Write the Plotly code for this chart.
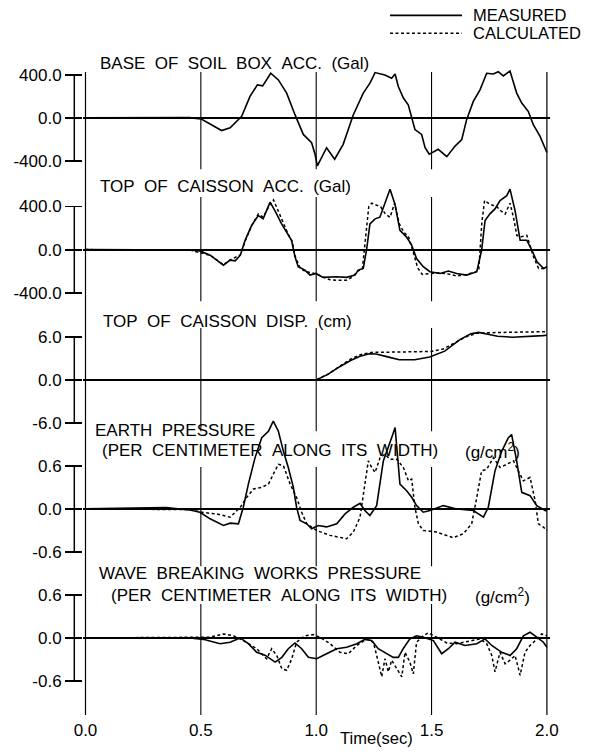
import plotly.graph_objects as go

# ------------------------------------------------------------------ data
time_ticks = [0.0, 0.5, 1.0, 1.5, 2.0]
time_tick_labels = ["0.0", "0.5", "1.0", "1.5", "2.0"]

panel_half_range = [400.0, 400.0, 6.0, 0.6, 0.6]
panel_tick_labels = [
    ["400.0", "0.0", "-400.0"],
    ["400.0", "0.0", "-400.0"],
    ["6.0", "0.0", "-6.0"],
    ["0.6", "0.0", "-0.6"],
    ["0.6", "0.0", "-0.6"],
]

legend_names = ["MEASURED", "CALCULATED"]

# Panel 1: base of soil box acceleration (Gal)
base_meas_t = [0.0, 0.30, 0.45, 0.50, 0.54, 0.59, 0.627, 0.677, 0.713, 0.745, 0.768, 0.803,
               0.836, 0.872, 0.908, 0.944, 0.98, 0.995, 1.005, 1.045, 1.08, 1.117, 1.139,
               1.161, 1.204, 1.233, 1.255, 1.298, 1.327, 1.342, 1.356, 1.378, 1.399, 1.414,
               1.428, 1.457, 1.472, 1.49, 1.529, 1.566, 1.602, 1.631, 1.652, 1.681, 1.71,
               1.739, 1.768, 1.789, 1.811, 1.84, 1.869, 1.891, 1.919, 1.941, 1.97, 2.0]
base_meas_v = [0, 5, 3, -9, -60, -117, -92, 15, 199, 306, 297, 414,
               352, 230, 30, -153, -230, -337, -445, -276, -383, -245, -107,
               30, 230, 322, 420, 398, 368, 407, 291, 184, 122, 0,
               -108, -153, -276, -337, -291, -359, -261, -200, -16, 153, 260,
               414, 407, 428, 389, 435, 230, 138, 61, -62, -169, -320]

# Panel 2: top of caisson acceleration (Gal)
cacc_meas_t = [0.0, 0.45, 0.496, 0.54, 0.598, 0.627, 0.649, 0.671, 0.692, 0.72, 0.749, 0.77,
               0.80, 0.821, 0.85, 0.879, 0.893, 0.908, 0.922, 0.951, 0.973, 0.999, 1.03,
               1.088, 1.132, 1.168, 1.182, 1.204, 1.219, 1.233, 1.255, 1.276, 1.298, 1.32,
               1.341, 1.363, 1.392, 1.414, 1.435, 1.464, 1.493, 1.537, 1.573, 1.609, 1.652,
               1.696, 1.717, 1.732, 1.753, 1.775, 1.797, 1.826, 1.84, 1.862, 1.884, 1.913,
               1.935, 1.957, 1.986, 2.0]
cacc_meas_v = [0, -3, -12, -52, -144, -98, -104, -52, 86, 224, 316, 285,
               440, 362, 239, 132, 86, -67, -159, -190, -236, -221, -257,
               -251, -257, -236, -190, -175, 9, 239, 285, 300, 423, 560,
               423, 178, 116, 40, -83, -159, -205, -221, -199, -221, -236,
               -205, -6, 270, 331, 377, 454, 500, 560, 362, 86, 86,
               -6, -113, -175, -159]
cacc_calc_t = [0.0, 0.45, 0.54, 0.598, 0.627, 0.671, 0.692, 0.72, 0.749, 0.77, 0.80, 0.815,
               0.835, 0.86, 0.879, 0.895, 0.91, 0.93, 0.951, 0.98, 1.0, 1.03, 1.06, 1.10,
               1.13, 1.16, 1.18, 1.20, 1.215, 1.228, 1.241, 1.26, 1.28, 1.30, 1.32, 1.34,
               1.36, 1.38, 1.40, 1.42, 1.44, 1.46, 1.49, 1.53, 1.57, 1.61, 1.65, 1.69,
               1.705, 1.718, 1.73, 1.753, 1.782, 1.80, 1.819, 1.84, 1.855, 1.87, 1.89,
               1.913, 1.942, 1.964, 1.993, 2.0]
cacc_calc_v = [0, -3, -52, -140, -95, -50, 80, 220, 330, 300, 420, 460,
               360, 230, 140, 80, -70, -170, -200, -215, -225, -255, -280, -285,
               -285, -250, -200, -180, 120, 400, 430, 410, 395, 330, 300, 430,
               240, 160, 120, -20, -170, -230, -225, -215, -225, -245, -230, -210,
               -180, 250, 455, 420, 400, 360, 330, 430, 300, 130, 120,
               132, -67, -175, -175, -165]

# Panel 3: top of caisson displacement (cm)
cdisp_meas_t = [0.0, 1.0, 1.051, 1.10, 1.149, 1.19, 1.23, 1.26, 1.31, 1.36, 1.427, 1.492,
                1.557, 1.623, 1.67, 1.704, 1.75, 1.786, 1.851, 1.92, 1.982, 2.0]
cdisp_meas_v = [0, 0, 0.77, 1.8, 2.7, 3.3, 3.63, 3.59, 3.2, 2.8, 2.8, 3.17,
                4.0, 5.6, 6.4, 6.6, 6.3, 6.07, 5.93, 6.0, 6.15, 6.2]
cdisp_calc_t = [0.0, 1.0, 1.051, 1.10, 1.149, 1.20, 1.25, 1.30, 1.40, 1.50, 1.55, 1.60,
                1.65, 1.70, 1.75, 1.80, 1.90, 2.0]
cdisp_calc_v = [0, 0, 0.8, 1.9, 2.9, 3.6, 3.85, 3.85, 3.85, 3.95, 4.3, 5.2,
                6.0, 6.5, 6.6, 6.6, 6.65, 6.7]

# Panel 4: earth pressure (g/cm2)
earth_meas_t = [0.0, 0.30, 0.35, 0.40, 0.453, 0.496, 0.54, 0.598, 0.627, 0.663, 0.684, 0.706,
                0.735, 0.764, 0.793, 0.814, 0.836, 0.858, 0.879, 0.901, 0.915, 0.93, 0.959,
                0.98, 1.009, 1.045, 1.089, 1.125, 1.161, 1.19, 1.211, 1.233, 1.262, 1.291,
                1.313, 1.327, 1.342, 1.363, 1.392, 1.414, 1.435, 1.464, 1.493, 1.551, 1.609,
                1.681, 1.725, 1.746, 1.775, 1.804, 1.833, 1.847, 1.869, 1.891, 1.927, 1.956,
                1.992, 2.0]
earth_meas_v = [0, 0.02, 0.02, 0.0, -0.014, -0.046, -0.138, -0.23, -0.198, -0.207, 0.023, 0.345,
                0.713, 0.99, 1.08, 1.22, 1.08, 0.80, 0.575, 0.30, 0.023, -0.16, -0.207,
                -0.276, -0.23, -0.25, -0.207, -0.069, 0.023, 0.078, -0.023, -0.092, 0.046, 0.667,
                0.85, 0.99, 1.13, 0.345, 0.253, 0.161, 0.046, -0.046, -0.023, 0.046, 0.0,
                -0.023, -0.115, 0.023, 0.529, 0.80, 0.99, 1.035, 0.667, 0.23, 0.184, 0.046,
                -0.023, -0.03]
earth_calc_t = [0.0, 0.453, 0.51, 0.569, 0.627, 0.67, 0.699, 0.728, 0.764, 0.793, 0.814, 0.836,
                0.858, 0.887, 0.915, 0.937, 0.959, 1.002, 1.06, 1.132, 1.161, 1.19, 1.211,
                1.226, 1.241, 1.255, 1.277, 1.298, 1.32, 1.349, 1.378, 1.40, 1.414, 1.428,
                1.443, 1.464, 1.522, 1.594, 1.638, 1.674, 1.696, 1.717, 1.739, 1.768, 1.797,
                1.826, 1.855, 1.876, 1.898, 1.927, 1.949, 1.963, 1.985, 2.0]
earth_calc_v = [0, -0.01, -0.05, -0.07, -0.115, 0.02, 0.16, 0.276, 0.30, 0.345, 0.483, 0.62,
                0.60, 0.345, 0.16, -0.046, -0.207, -0.30, -0.368, -0.414, -0.322, -0.115, 0.345,
                0.667, 0.575, 0.506, 0.713, 0.76, 0.69, 0.69, 0.575, 0.39, 0.414, 0.02,
                -0.207, -0.30, -0.322, -0.40, -0.345, -0.207, 0.16, 0.529, 0.55, 0.713, 0.575,
                0.62, 0.667, 0.53, 0.39, 0.437, 0.115, -0.207, -0.253, -0.30]

# Panel 5: wave breaking works pressure (g/cm2)
wave_meas_t = [0.0, 0.453, 0.511, 0.583, 0.627, 0.67, 0.706, 0.742, 0.778, 0.822, 0.851, 0.879,
               0.908, 0.937, 0.966, 1.002, 1.045, 1.089, 1.132, 1.176, 1.211, 1.24, 1.269,
               1.305, 1.334, 1.356, 1.377, 1.406, 1.435, 1.464, 1.508, 1.544, 1.573, 1.602,
               1.645, 1.696, 1.732, 1.761, 1.804, 1.84, 1.869, 1.898, 1.927, 1.956, 1.985, 2.0]
wave_meas_v = [0, 0, -0.02, -0.08, -0.06, 0.0, -0.08, -0.20, -0.24, -0.336, -0.27, -0.15,
               -0.07, -0.15, -0.27, -0.29, -0.22, -0.15, -0.13, -0.08, -0.02, -0.037, -0.15,
               -0.22, -0.27, -0.27, -0.15, -0.014, 0.03, 0.01, -0.037, -0.22, -0.15, -0.06,
               -0.105, -0.08, -0.014, -0.105, -0.20, -0.244, -0.15, 0.03, 0.078, 0.01, -0.06, -0.13]
wave_calc_t = [0.0, 0.54, 0.598, 0.641, 0.684, 0.742, 0.785, 0.807, 0.829, 0.851, 0.872, 0.894,
               0.915, 0.951, 0.987, 1.016, 1.06, 1.103, 1.139, 1.176, 1.219, 1.248, 1.269,
               1.284, 1.298, 1.313, 1.327, 1.349, 1.371, 1.385, 1.406, 1.421, 1.435, 1.464,
               1.486, 1.522, 1.566, 1.609, 1.652, 1.71, 1.739, 1.761, 1.775, 1.797, 1.819,
               1.84, 1.862, 1.884, 1.905, 1.927, 1.956, 1.978, 2.0]
wave_calc_v = [0, 0.01, 0.055, 0.03, -0.037, -0.15, -0.29, -0.15, -0.244, -0.43, -0.45, -0.29,
               -0.06, 0.03, 0.046, 0.01, -0.08, -0.20, -0.22, -0.105, -0.014, -0.06, -0.336,
               -0.54, -0.29, -0.47, -0.31, -0.43, -0.54, -0.20, -0.336, -0.50, -0.06, 0.03,
               0.07, 0.01, -0.07, -0.08, -0.05, -0.014, -0.08, -0.244, -0.47, -0.20, -0.36,
               -0.31, -0.244, -0.52, -0.20, -0.105, -0.02, 0.055, 0.03]

panel_series = [
    (base_meas_t, base_meas_v, None, None),
    (cacc_meas_t, cacc_meas_v, cacc_calc_t, cacc_calc_v),
    (cdisp_meas_t, cdisp_meas_v, cdisp_calc_t, cdisp_calc_v),
    (earth_meas_t, earth_meas_v, earth_calc_t, earth_calc_v),
    (wave_meas_t, wave_meas_v, wave_calc_t, wave_calc_v),
]

# ------------------------------------------------------------------ layout geometry (pixels)
W, H = 591, 752
PL, PR, PT, PB = 83, 550, 68, 723          # plot area edges
X0_PX, PX_PER_S = 85.5, 230.7               # t=0 position, px per second
ZERO_PX = [118.3, 251.0, 382.3, 512.3, 642.3]
HALF_PX = 43.5
BRACKET_PX = 74.3
SEGMENTS_PX = [(72, 170), (198, 303), (330, 434), (470, 570), (608, 720)]

FONT = "Liberation Sans, Arial, Helvetica, sans-serif"
FS = 17
FS_TITLE = 17


def px_to_paper_x(px):
    return (px - PL) / (PR - PL)


def px_to_paper_y(py):
    return (PB - py) / (PB - PT)


x_range = [(PL - X0_PX) / PX_PER_S, (PR - X0_PX) / PX_PER_S]

fig = go.Figure()

solid = dict(color="black", width=1.6)
dotted = dict(color="black", width=1.5, dash="3px,2.5px")

for i, (mt, mv, ct, cv) in enumerate(panel_series):
    yname = "y" if i == 0 else f"y{i + 1}"
    if ct is not None:
        fig.add_trace(go.Scatter(x=ct, y=cv, mode="lines", line=dotted, yaxis=yname,
                                 name=legend_names[1], showlegend=False, hoverinfo="skip"))
    fig.add_trace(go.Scatter(x=mt, y=mv, mode="lines", line=solid, yaxis=yname,
                             name=legend_names[0], showlegend=False, hoverinfo="skip"))

layout_axes = {}
for i, A in enumerate(panel_half_range):
    z = ZERO_PX[i]
    rng = [-(PB - z) / HALF_PX * A, (z - PT) / HALF_PX * A]
    ax = dict(
        range=rng,
        tickmode="array",
        tickvals=[A, 0.0, -A],
        ticktext=panel_tick_labels[i],
        ticks="outside",
        ticklen=17,
        tickwidth=1.8,
        tickcolor="black",
        tickfont=dict(family=FONT, size=FS, color="black"),
        showgrid=False,
        showline=False,
        zeroline=True,
        zerolinecolor="black",
        zerolinewidth=2,
        fixedrange=True,
    )
    if i == 0:
        ax["domain"] = [0, 1]
        layout_axes["yaxis"] = ax
    else:
        ax["overlaying"] = "y"
        ax["anchor"] = "x"
        ax["side"] = "left"
        layout_axes[f"yaxis{i + 1}"] = ax

shapes = []
# y brackets
for i, A in enumerate(panel_half_range):
    yref = "y" if i == 0 else f"y{i + 1}"
    shapes.append(dict(type="line", xref="paper", yref=yref,
                       x0=px_to_paper_x(BRACKET_PX), x1=px_to_paper_x(BRACKET_PX),
                       y0=-A, y1=A, line=dict(color="black", width=1.5)))
# continuous vertical lines at start / end of time axis
for t in (time_ticks[0], time_ticks[-1]):
    shapes.append(dict(type="line", xref="x", yref="paper", x0=t, x1=t,
                       y0=px_to_paper_y(720), y1=px_to_paper_y(72),
                       line=dict(color="black", width=1.2)))
# segmented interior vertical lines
for t in time_ticks[1:-1]:
    for top, bot in SEGMENTS_PX:
        shapes.append(dict(type="line", xref="x", yref="paper", x0=t, x1=t,
                           y0=px_to_paper_y(bot), y1=px_to_paper_y(top),
                           line=dict(color="black", width=1.1)))
# legend key lines
shapes.append(dict(type="line", xref="paper", yref="paper",
                   x0=px_to_paper_x(390), x1=px_to_paper_x(462),
                   y0=px_to_paper_y(15), y1=px_to_paper_y(15),
                   line=solid))
shapes.append(dict(type="line", xref="paper", yref="paper",
                   x0=px_to_paper_x(390), x1=px_to_paper_x(462),
                   y0=px_to_paper_y(33), y1=px_to_paper_y(33),
                   line=dotted))

annotations = []


def label(text, px, py, anchor="left", size=FS_TITLE):
    annotations.append(dict(text=text, xref="paper", yref="paper",
                            x=px_to_paper_x(px), y=px_to_paper_y(py),
                            xanchor=anchor, yanchor="middle", showarrow=False,
                            font=dict(family=FONT, size=size, color="black")))


SP = "\u00a0\u00a0"
label(legend_names[0], 471, 15, size=16.5)
label(legend_names[1], 471, 33, size=16.5)
label(SP.join(["BASE", "OF", "SOIL", "BOX", "ACC.", "(Gal)"]), 98, 63)
label(SP.join(["TOP", "OF", "CAISSON", "ACC.", "(Gal)"]), 98, 187)
label(SP.join(["TOP", "OF", "CAISSON", "DISP.", "(cm)"]), 101, 323)
label(SP.join(["EARTH", "PRESSURE"]), 93, 433.5)
label(SP.join(["(PER", "CENTIMETER", "ALONG", "ITS", "WIDTH)"]), 100, 453.5)
label("(g/cm<sup>2</sup>)", 463, 453.5)
label(SP.join(["WAVE", "BREAKING", "WORKS", "PRESSURE"]), 97, 577.5)
label(SP.join(["(PER", "CENTIMETER", "ALONG", "ITS", "WIDTH)"]), 109, 600)
label("(g/cm<sup>2</sup>)", 473, 600)
label("Time(sec)", 376, 743, anchor="center", size=16.5)

fig.update_layout(
    width=W, height=H,
    margin=dict(l=PL, r=W - PR, t=PT, b=H - PB, pad=0),
    paper_bgcolor="white", plot_bgcolor="white",
    showlegend=False,
    hovermode=False,
    xaxis=dict(range=x_range, tickmode="array", tickvals=time_ticks,
               ticktext=time_tick_labels, ticks="", showgrid=False, zeroline=False,
               showline=False, tickfont=dict(family=FONT, size=FS, color="black"),
               fixedrange=True),
    shapes=shapes,
    annotations=annotations,
    **layout_axes,
)

fig.write_html(
    "out.html",
    config={"displayModeBar": False, "staticPlot": True},
    post_script="document.body.style.margin='0';document.body.style.overflow='hidden';",
)
